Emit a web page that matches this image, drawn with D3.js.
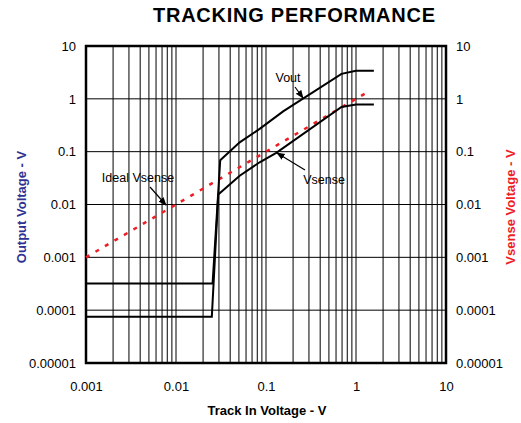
<!DOCTYPE html>
<html>
<head>
<meta charset="utf-8">
<script src="https://cdn.jsdelivr.net/npm/d3@7"></script>
<style>
  body { margin: 0; background: #fff; }
  svg text { font-family: "Liberation Sans", Arial, sans-serif; }
</style>
</head>
<body>
<div id="chart"></div>
<script>
// track in voltage (V) vs output voltage (V)
var voutX = [0.001, 0.0255, 0.031, 0.051, 0.085, 0.155, 0.69, 1.0, 1.58];
var voutY = [0.00032, 0.00032, 0.069, 0.15, 0.27, 0.58, 2.97, 3.4, 3.4];
var vsenseX = [0.001, 0.025, 0.0295, 0.051, 0.085, 0.13, 0.69, 1.0, 1.58];
var vsenseY = [0.000075, 0.000075, 0.0155, 0.035, 0.063, 0.095, 0.70, 0.78, 0.78];
var idealX = [0.001, 1.32];
var idealY = [0.001, 1.32];
var xTicks = [0.001, 0.01, 0.1, 1, 10];
var yTicks = [0.00001, 0.0001, 0.001, 0.01, 0.1, 1, 10];

var width = 521, height = 423;
var margin = {top: 46, right: 75, bottom: 60, left: 86};

var svg = d3.select("#chart").append("svg")
    .attr("width", width)
    .attr("height", height);

var x = d3.scaleLog().domain([0.001, 10]).range([margin.left, width - margin.right]);
var y = d3.scaleLog().domain([0.00001, 10]).range([height - margin.bottom, margin.top]);

var fmt = function (d) { return String(+d.toPrecision(1)); };

// vertical grid, including the 2..9 lines in each decade
var xGrid = [];
for (var e = -3; e < 1; e++) {
    for (var m = 1; m < 10; m++) xGrid.push(m * Math.pow(10, e));
}
svg.append("g").selectAll("line")
    .data(xGrid)
    .enter().append("line")
    .attr("x1", function (d) { return x(d); })
    .attr("x2", function (d) { return x(d); })
    .attr("y1", y(10))
    .attr("y2", y(0.00001))
    .attr("stroke", "#000")
    .attr("stroke-width", 1);

// horizontal grid, decades only
svg.append("g").selectAll("line")
    .data(yTicks)
    .enter().append("line")
    .attr("x1", x(0.001))
    .attr("x2", x(10))
    .attr("y1", function (d) { return y(d); })
    .attr("y2", function (d) { return y(d); })
    .attr("stroke", "#000")
    .attr("stroke-width", 1);

// axes (labels only, the frame is drawn below)
var bottom = svg.append("g")
    .attr("transform", "translate(0," + (height - margin.bottom) + ")")
    .call(d3.axisBottom(x).tickValues(xTicks).tickFormat(fmt).tickSize(0).tickPadding(19));
var left = svg.append("g")
    .attr("transform", "translate(" + margin.left + ",0)")
    .call(d3.axisLeft(y).tickValues(yTicks).tickFormat(fmt).tickSize(0).tickPadding(10));
var right = svg.append("g")
    .attr("transform", "translate(" + (width - margin.right) + ",0)")
    .call(d3.axisRight(y).tickValues(yTicks).tickFormat(fmt).tickSize(0).tickPadding(10));
[bottom, left, right].forEach(function (g) {
    g.select(".domain").remove();
    g.selectAll("text").attr("font-size", 13).attr("fill", "#000");
});

// frame
svg.append("rect")
    .attr("x", x(0.001))
    .attr("y", y(10))
    .attr("width", x(10) - x(0.001))
    .attr("height", y(0.00001) - y(10))
    .attr("fill", "none")
    .attr("stroke", "#000")
    .attr("stroke-width", 2.5);

var line = d3.line()
    .x(function (d) { return x(d[0]); })
    .y(function (d) { return y(d[1]); });

svg.append("path")
    .datum(d3.zip(idealX, idealY))
    .attr("d", line)
    .attr("fill", "none")
    .attr("stroke", "#ee1c25")
    .attr("stroke-width", 2.5)
    .attr("stroke-dasharray", "4,7");

svg.append("path")
    .datum(d3.zip(voutX, voutY))
    .attr("d", line)
    .attr("fill", "none")
    .attr("stroke", "#000")
    .attr("stroke-width", 2);

svg.append("path")
    .datum(d3.zip(vsenseX, vsenseY))
    .attr("d", line)
    .attr("fill", "none")
    .attr("stroke", "#000")
    .attr("stroke-width", 2);

// annotations
svg.append("defs").append("marker")
    .attr("id", "arrow")
    .attr("viewBox", "0 0 10 10")
    .attr("refX", 9).attr("refY", 5)
    .attr("markerWidth", 7).attr("markerHeight", 7)
    .attr("orient", "auto")
    .append("path")
    .attr("d", "M0,1 L10,5 L0,9 Z")
    .attr("fill", "#000");

var notes = [
    {text: "Vout", tx: 288, ty: 82, x1: 295, y1: 87, x2: 303, y2: 98},
    {text: "Vsense", tx: 324, ty: 184, x1: 305, y1: 170, x2: 277, y2: 153},
    {text: "Ideal Vsense", tx: 138, ty: 182, x1: 150, y1: 187, x2: 166, y2: 205}
];
notes.forEach(function (n) {
    svg.append("line")
        .attr("x1", n.x1).attr("y1", n.y1)
        .attr("x2", n.x2).attr("y2", n.y2)
        .attr("stroke", "#000")
        .attr("stroke-width", 1.2)
        .attr("marker-end", "url(#arrow)");
    svg.append("text")
        .attr("x", n.tx).attr("y", n.ty)
        .attr("text-anchor", "middle")
        .attr("font-size", 12.5)
        .text(n.text);
});

// titles
svg.append("text")
    .attr("x", 294).attr("y", 22)
    .attr("text-anchor", "middle")
    .attr("font-size", 20).attr("font-weight", "bold")
    .attr("textLength", 282)
    .text("TRACKING PERFORMANCE");

svg.append("text")
    .attr("x", 267).attr("y", 415)
    .attr("text-anchor", "middle")
    .attr("font-size", 13).attr("font-weight", "bold")
    .text("Track In Voltage - V");

svg.append("text")
    .attr("transform", "translate(26,207) rotate(-90)")
    .attr("text-anchor", "middle")
    .attr("font-size", 13).attr("font-weight", "bold")
    .attr("fill", "#2e3192")
    .text("Output Voltage - V");

svg.append("text")
    .attr("transform", "translate(515,207) rotate(-90)")
    .attr("text-anchor", "middle")
    .attr("font-size", 13).attr("font-weight", "bold")
    .attr("fill", "#ee1c25")
    .text("Vsense Voltage - V");
</script>
</body>
</html>
